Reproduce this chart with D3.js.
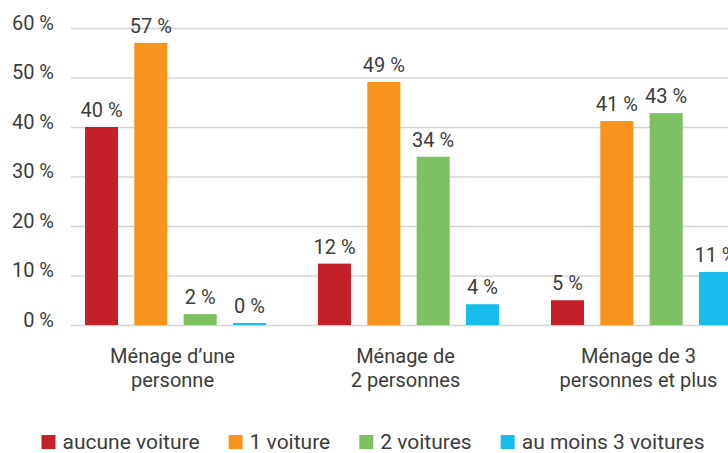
<!DOCTYPE html>
<html><head><meta charset="utf-8">
<script src="https://cdn.jsdelivr.net/npm/d3@7"></script>
<style>
html,body{margin:0;padding:0;background:#fff;}
svg text{font-family:Roboto,"Noto Sans",sans-serif;fill:#3c3c3c;}
</style></head>
<body><svg id="c" width="728" height="453"></svg>
<script>
const categories = [["Ménage d’une","personne"],["Ménage de","2 personnes"],["Ménage de 3","personnes et plus"]];
const seriesNames = ["aucune voiture","1 voiture","2 voitures","au moins 3 voitures"];
const seriesColors = ["#C4202A","#F7941E","#7DC163","#19BDEB"];
const aucune = [40, 12.4, 5];
const une = [57, 49.1, 41.2];
const deux = [2.2, 34, 42.8];
const troisPlus = [0.4, 4.2, 10.7];
const yTicks = [0,10,20,30,40,50,60];

const series = [aucune, une, deux, troisPlus];
const svg = d3.select("#c");
const y = d3.scaleLinear().domain([0,60]).range([325,28]);
const x0 = d3.scaleBand().domain(d3.range(categories.length)).range([59,758]).paddingInner(0.223).paddingOuter(0.1115);
const x1 = d3.scaleBand().domain(d3.range(series.length)).range([0,x0.bandwidth()]).paddingInner(0.33).paddingOuter(0);

// gridlines
const yAxis = d3.axisLeft(y).tickValues(yTicks).tickSize(-660).tickFormat(d=>d+" %");
const gA = svg.append("g").attr("transform","translate(71,0)").call(yAxis);
gA.select(".domain").remove();
gA.selectAll(".tick line").attr("stroke","#d4d4d4").attr("stroke-width",1.5);
gA.selectAll(".tick text").attr("x",-17).attr("dy","0.05em").style("font-size","20px").style("font-family","Roboto").attr("fill","#3c3c3c");

// bars
const groups = svg.append("g").selectAll("g").data(categories).join("g")
  .attr("transform",(d,i)=>`translate(${x0(i)},0)`);
groups.each(function(c,gi){
  const g = d3.select(this);
  series.forEach((s,si)=>{
    g.append("rect").attr("x",x1(si)).attr("width",x1.bandwidth())
      .attr("y",y(s[gi])).attr("height",y(0)-y(s[gi])).attr("fill",seriesColors[si]);
    g.append("text").attr("x",x1(si)+x1.bandwidth()/2).attr("y",y(s[gi])-10)
      .attr("text-anchor","middle").style("font-size","20px").text(Math.round(s[gi])+" %");
  });
  const cxl = x0.bandwidth()/2 - 3;
  const t = g.append("text").attr("x",cxl).attr("y",363).attr("text-anchor","middle").style("font-size","20px");
  c.forEach((line,li)=>t.append("tspan").attr("x",cxl).attr("y",363+li*24).text(line));
});

// legend
const leg = svg.append("g");
let cx = 0;
seriesNames.forEach((n,i)=>{
  const it = leg.append("g").attr("transform",`translate(${cx},0)`);
  it.append("rect").attr("x",0).attr("y",435).attr("width",14).attr("height",14).attr("fill",seriesColors[i]);
  const tx = it.append("text").attr("x",21).attr("y",449).style("font-size","21px").text(n);
  cx += 21 + tx.node().getComputedTextLength() + 29;
});
const total = cx - 29;
leg.attr("transform",`translate(${373 - total/2},0)`);
</script></body></html>
